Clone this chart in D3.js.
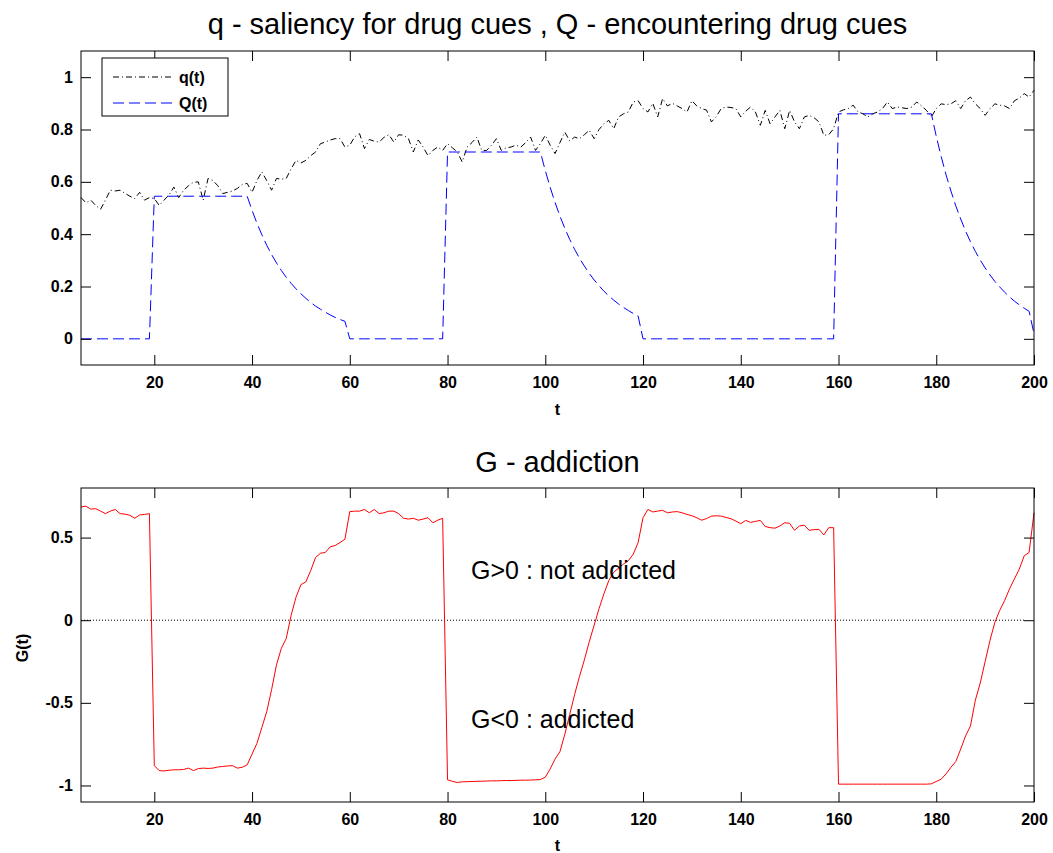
<!DOCTYPE html>
<html><head><meta charset="utf-8">
<script src="https://cdn.jsdelivr.net/npm/d3@7"></script>
<style>
body{margin:0;background:#fff}
svg{display:block}
text{font-family:"Liberation Sans",Arial,Helvetica,sans-serif}
</style>
</head><body>
<svg id="chart" width="1053" height="853"></svg>
<script>
// ---------- data ----------
const tStart = 5, tEnd = 200;
const xTicks = [20, 40, 60, 80, 100, 120, 140, 160, 180, 200];
const topYTicks = [0, 0.2, 0.4, 0.6, 0.8, 1];
const topYLabels = ["0", "0.2", "0.4", "0.6", "0.8", "1"];
const botYTicks = [-1, -0.5, 0, 0.5];
const botYLabels = ["-1", "-0.5", "0", "0.5"];
const seriesNames = ["q(t)", "Q(t)", "G(t)"];
const topTitle = "q - saliency for drug cues , Q - encountering drug cues";
const botTitle = "G - addiction";
const notes = ["G>0 : not addicted", "G<0 : addicted"];

// q(t), t = 5..200
const qValues = [
 .54,.52,.53,.51,.495,.53,.568,.565,.568,.556,
 .545,.536,.56,.53,.54,.536,.51,.53,.55,.58,
 .54,.568,.585,.598,.60,.53,.613,.605,.585,.555,
 .56,.565,.575,.59,.594,.56,.605,.638,.605,.568,
 .613,.61,.613,.65,.682,.672,.682,.70,.714,.746,
 .752,.76,.765,.765,.733,.74,.772,.784,.727,.762,
 .755,.752,.77,.78,.752,.78,.778,.765,.714,.76,
 .733,.70,.72,.733,.72,.746,.73,.714,.676,.733,
 .75,.771,.72,.72,.74,.765,.72,.73,.733,.74,
 .733,.75,.771,.72,.746,.778,.74,.708,.75,.79,
 .756,.771,.765,.78,.797,.765,.80,.822,.835,.803,
 .848,.86,.867,.905,.91,.88,.867,.90,.848,.918,
 .89,.90,.89,.88,.867,.91,.89,.88,.874,.829,
 .85,.88,.886,.884,.88,.848,.87,.886,.867,.816,
 .873,.822,.848,.873,.803,.873,.829,.803,.848,.854,
 .845,.829,.778,.78,.803,.867,.875,.88,.893,.867,
 .86,.848,.86,.867,.88,.905,.88,.886,.883,.88,
 .886,.905,.89,.873,.848,.88,.898,.895,.898,.91,
 .88,.91,.924,.898,.88,.854,.88,.898,.893,.89,
 .88,.91,.92,.937,.924,.95
];

// Q(t), t = 5..200
const QValues = [
 0,0,0,0,0,0,0,0,0,0,
 0,0,0,0,0,.545,.545,.545,.545,.545,
 .545,.545,.545,.545,.545,.545,.545,.545,.545,.545,
 .545,.545,.545,.545,.545,.491,.442,.398,.358,.322,
 .290,.261,.235,.212,.191,.172,.155,.139,.125,.113,
 .102,.091,.082,.074,.067,0,0,0,0,0,
 0,0,0,0,0,0,0,0,0,0,
 0,0,0,0,0,.714,.714,.714,.714,.714,
 .714,.714,.714,.714,.714,.714,.714,.714,.714,.714,
 .714,.714,.714,.714,.714,.643,.579,.521,.469,.422,
 .380,.342,.308,.278,.250,.225,.203,.182,.164,.148,
 .133,.120,.108,.097,.087,0,0,0,0,0,
 0,0,0,0,0,0,0,0,0,0,
 0,0,0,0,0,0,0,0,0,0,
 0,0,0,0,0,0,0,0,0,0,
 0,0,0,0,0,.86,.86,.86,.86,.86,
 .86,.86,.86,.86,.86,.86,.86,.86,.86,.86,
 .86,.86,.86,.86,.86,.774,.697,.627,.565,.508,
 .458,.412,.371,.334,.301,.271,.244,.219,.198,.178,
 .160,.144,.130,.117,.105,.02
];

// G(t), t = 5..200
const GValues = [
 .685,.69,.672,.675,.66,.645,.66,.67,.645,.642,
 .635,.617,.637,.64,.645,-.88,-.91,-.912,-.908,-.905,
 -.905,-.903,-.895,-.91,-.898,-.895,-.897,-.895,-.888,-.885,
 -.882,-.88,-.895,-.89,-.875,-.81,-.745,-.65,-.554,-.42,
 -.27,-.17,-.11,.03,.14,.215,.232,.30,.38,.405,
 .41,.444,.452,.47,.49,.657,.66,.66,.67,.65,
 .67,.645,.65,.66,.66,.645,.617,.612,.617,.605,
 .612,.62,.59,.605,.617,-.966,-.975,-.982,-.978,-.977,
 -.976,-.975,-.974,-.973,-.972,-.972,-.971,-.97,-.97,-.969,
 -.968,-.968,-.967,-.966,-.964,-.95,-.9,-.84,-.795,-.69,
 -.57,-.45,-.34,-.24,-.13,-.03,.07,.16,.24,.29,
 .315,.34,.36,.40,.47,.62,.67,.655,.66,.665,
 .65,.655,.657,.65,.64,.632,.62,.605,.615,.63,
 .632,.63,.622,.614,.60,.584,.604,.592,.598,.604,
 .567,.56,.557,.57,.59,.586,.544,.57,.575,.544,
 .548,.55,.516,.56,.56,-.992,-.992,-.992,-.992,-.992,
 -.992,-.992,-.992,-.992,-.992,-.992,-.992,-.992,-.992,-.992,
 -.992,-.992,-.992,-.992,-.99,-.976,-.962,-.93,-.89,-.855,
 -.78,-.70,-.64,-.484,-.38,-.25,-.122,-.012,.06,.12,
 .19,.25,.31,.39,.41,.65
];

const tValues = d3.range(tStart, tEnd + 1);
const zeroLineEnd = 198;

// ---------- layout ----------
const svg = d3.select("#chart");
const L = 81, R = 1034;
const W = R - L;
const topP = {top: 51, bottom: 365};
const botP = {top: 488, bottom: 802};

const x = d3.scaleLinear().domain([tStart, tEnd]).range([0, W]);

function frame(g, y, h, yTicks, yLabels) {
  const fmtY = (d) => yLabels[yTicks.indexOf(d)];
  const bx = g.append("g").attr("transform", `translate(0,${h})`)
    .call(d3.axisBottom(x).tickValues(xTicks).tickSizeInner(-10).tickSizeOuter(0).tickPadding(12).tickFormat(d3.format("d")));
  const tx = g.append("g")
    .call(d3.axisTop(x).tickValues(xTicks).tickSizeInner(-10).tickSizeOuter(0).tickFormat(""));
  const ly = g.append("g")
    .call(d3.axisLeft(y).tickValues(yTicks).tickSizeInner(-10).tickSizeOuter(0).tickPadding(8).tickFormat(fmtY));
  const ry = g.append("g").attr("transform", `translate(${W},0)`)
    .call(d3.axisRight(y).tickValues(yTicks).tickSizeInner(-10).tickSizeOuter(0).tickFormat(""));
  [bx, tx, ly, ry].forEach(a => {
    a.select(".domain").remove();
    a.selectAll(".tick line").attr("stroke", "#000");
    a.selectAll(".tick text").attr("font-size", 16).attr("font-weight", "bold")
      .attr("font-family", '"Liberation Sans", Arial, sans-serif').attr("fill", "#000");
  });
  g.append("rect").attr("x", 0).attr("y", 0).attr("width", W).attr("height", h)
    .attr("fill", "none").attr("stroke", "#000").attr("stroke-width", 1);
}

// ---------- top panel ----------
const hTop = topP.bottom - topP.top;
const yTop = d3.scaleLinear().domain([-0.1, 1.1]).range([hTop, 0]);
const gTop = svg.append("g").attr("transform", `translate(${L},${topP.top})`);
gTop.append("rect").attr("width", W).attr("height", hTop).attr("fill", "#fff");

const lineTop = d3.line().x((d, i) => x(tValues[i])).y(d => yTop(d));
gTop.append("path").datum(qValues).attr("d", lineTop)
  .attr("fill", "none").attr("stroke", "#000").attr("stroke-width", 1)
  .attr("stroke-dasharray", "6,3,1,3");
gTop.append("path").datum(QValues).attr("d", lineTop)
  .attr("fill", "none").attr("stroke", "#0000ff").attr("stroke-width", 1)
  .attr("stroke-dasharray", "11,5");
frame(gTop, yTop, hTop, topYTicks, topYLabels);

// legend
const lg = gTop.append("g").attr("transform", "translate(21,7)");
lg.append("rect").attr("width", 126).attr("height", 58)
  .attr("fill", "#fff").attr("stroke", "#000").attr("stroke-width", 1);
lg.append("line").attr("x1", 11).attr("x2", 71).attr("y1", 19).attr("y2", 19)
  .attr("stroke", "#000").attr("stroke-dasharray", "6,3,1,3");
lg.append("line").attr("x1", 11).attr("x2", 71).attr("y1", 45).attr("y2", 45)
  .attr("stroke", "#0000ff").attr("stroke-dasharray", "11,5");
lg.selectAll("text.lt").data(seriesNames.slice(0, 2)).join("text")
  .attr("x", 77).attr("y", (d, i) => 19 + i * 26).attr("dy", "0.35em")
  .attr("font-size", 16).attr("font-weight", "bold").text(d => d);

svg.append("text").attr("x", L + W / 2).attr("y", 34).attr("text-anchor", "middle")
  .attr("font-size", 29).text(topTitle);
svg.append("text").attr("x", L + W / 2).attr("y", 415).attr("text-anchor", "middle")
  .attr("font-size", 16).attr("font-weight", "bold").text("t");

// ---------- bottom panel ----------
const hBot = botP.bottom - botP.top;
const yBot = d3.scaleLinear().domain([-1.1, 0.8]).range([hBot, 0]);
const gBot = svg.append("g").attr("transform", `translate(${L},${botP.top})`);
gBot.append("line").attr("x1", x(tStart)).attr("x2", x(zeroLineEnd))
  .attr("y1", yBot(0)).attr("y2", yBot(0))
  .attr("stroke", "#000").attr("stroke-width", 1).attr("stroke-dasharray", "1,2");
const lineBot = d3.line().x((d, i) => x(tValues[i])).y(d => yBot(d));
gBot.append("path").datum(GValues).attr("d", lineBot)
  .attr("fill", "none").attr("stroke", "#ff0000").attr("stroke-width", 1);
frame(gBot, yBot, hBot, botYTicks, botYLabels);

gBot.append("text").attr("x", x(84.8)).attr("y", yBot(0.25)).attr("font-size", 25).text(notes[0]);
gBot.append("text").attr("x", x(84.8)).attr("y", yBot(-0.65)).attr("font-size", 25).text(notes[1]);

svg.append("text").attr("x", L + W / 2).attr("y", 472).attr("text-anchor", "middle")
  .attr("font-size", 29).text(botTitle);
svg.append("text").attr("x", L + W / 2).attr("y", 851).attr("text-anchor", "middle")
  .attr("font-size", 16).attr("font-weight", "bold").text("t");
svg.append("text").attr("transform", `translate(28,${(botP.top + botP.bottom) / 2 + 3}) rotate(-90)`)
  .attr("text-anchor", "middle").attr("font-size", 16).attr("font-weight", "bold").text(seriesNames[2]);
</script>
</body></html>
